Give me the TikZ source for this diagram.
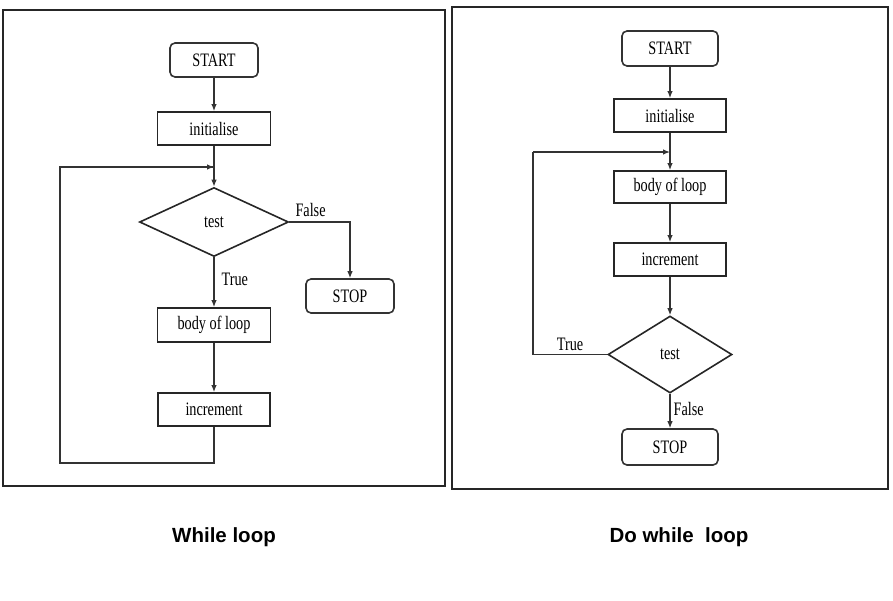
\documentclass[tikz,border=0pt]{standalone}
\usepackage{fontspec}
\setmainfont{Liberation Serif}
\newfontfamily\boxfont[FakeStretch=0.75]{Liberation Serif}
\newfontfamily\capfont{Liberation Sans}
\usetikzlibrary{shapes.geometric,arrows.meta}
\begin{document}
\begin{tikzpicture}[x=1pt,y=-1pt,
  every node/.style={font=\boxfont\fontsize{19}{22}\selectfont, text=black},
  rbox/.style={draw=black!80, line width=1.6pt, rounded corners=5pt, inner sep=0pt},
  sbox/.style={draw=black!85, line width=1.8pt, inner sep=0pt},
  dbox/.style={draw=black!85, diamond, line width=1.6pt, inner sep=0pt, aspect=2},
  conn/.style={draw=black!80, line width=1.2pt},
  arr/.style={conn, -{Latex[length=7pt,width=5.5pt]}},
  lbl/.style={inner sep=0pt},
  frame/.style={draw=black!85, line width=1.8pt},
  caption/.style={font=\capfont\bfseries\fontsize{20.5}{24}\selectfont, text=black}
]
\useasboundingbox (0,0) rectangle (893,600);
% frames
\draw[frame] (3,10) rectangle (445,486);
\draw[frame] (452,7) rectangle (888,489);

% ---------- While loop ----------
\node[rbox, minimum width=88pt, minimum height=34pt] (startL) at (214,60) {START};
\node[sbox, minimum width=113pt, minimum height=33pt] (initL) at (214,128.5) {initialise};
\node[dbox, minimum width=149pt, minimum height=69pt] (testL) at (214,222) {test};
\node[rbox, minimum width=88pt, minimum height=34pt] (stopL) at (350,296) {STOP};
\node[sbox, minimum width=113pt, minimum height=34pt] (bodyL) at (214,325) {body of loop};
\node[sbox, minimum width=112pt, minimum height=33pt] (incL) at (214,409.5) {increment};

\coordinate (joinL) at (214,167);
\coordinate (brL) at (214,463);
\coordinate (blL) at (60,463);
\coordinate (tlL) at (60,167);

\draw[arr] (startL) -- (initL);
\draw[arr] (initL) -- (testL);
\draw[arr] (testL.east) -| (stopL.north);
\node[lbl, anchor=south west] (falseL) at ([xshift=6pt,yshift=5pt]testL.east) {False};
\draw[arr] (testL.south) -- node[lbl, pos=0.45, right, xshift=7pt] (trueL) {True} (bodyL.north);
\draw[arr] (bodyL) -- (incL);
\draw[conn] (incL.south) -- (brL) -- (blL) -- (tlL) -- (joinL);
\draw[arr] (tlL) -- (joinL);

% ---------- Do while loop ----------
\node[rbox, minimum width=96pt, minimum height=35pt] (startR) at (670,48.5) {START};
\node[sbox, minimum width=112pt, minimum height=33pt] (initR) at (670,115.5) {initialise};
\node[sbox, minimum width=112pt, minimum height=32pt] (bodyR) at (670,187) {body of loop};
\node[sbox, minimum width=112pt, minimum height=33pt] (incR) at (670,259.5) {increment};
\node[dbox, minimum width=124pt, minimum height=77pt] (testR) at (670,354.5) {test};
\node[rbox, minimum width=96pt, minimum height=36pt] (stopR) at (670,447) {STOP};

\coordinate (joinR) at (670,152);
\coordinate (blR) at (533,354.5);
\coordinate (tlR) at (533,152);

\draw[arr] (startR) -- (initR);
\draw[arr] (initR) -- (bodyR);
\draw[arr] (bodyR) -- (incR);
\draw[arr] (incR) -- (testR);
\draw[arr] (testR) -- node[lbl, pos=0.45, right, xshift=3pt] (falseR) {False} (stopR);
\draw[conn] (testR.west) -- node[lbl, pos=0.5, above, yshift=3pt] (trueR) {True} (blR) -- (tlR);
\draw[arr] (tlR) -- (joinR);

% captions
\node[caption] (capL) at (224,537) {While loop};
\node[caption] (capR) at (679,537) {Do while~ loop};
\end{tikzpicture}
\end{document}
